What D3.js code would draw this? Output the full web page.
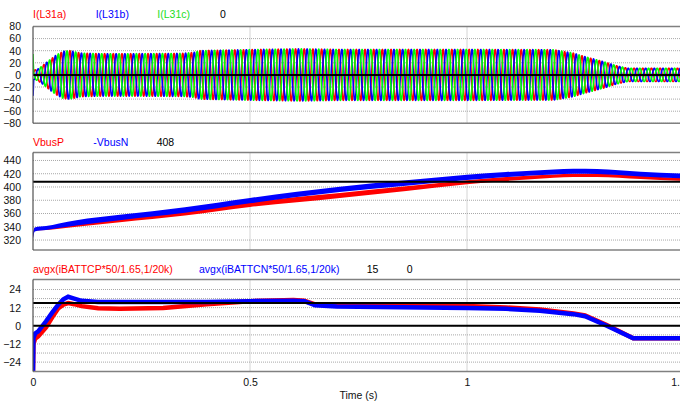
<!DOCTYPE html>
<html>
<head>
<meta charset="utf-8">
<script src="https://cdn.jsdelivr.net/npm/d3@7"></script>
<style>
  body { margin: 0; background: #fff; }
  svg { display: block; font-family: "Liberation Sans", Arial, sans-serif; }
</style>
</head>
<body>
<div id="chart"></div>
<script>
// x axis
const timeTicks = [0, 0.5, 1, 1.5];

// panel 1: three phase currents (50 Hz), envelope
const phaseNames = ["I(L31a)", "I(L31b)", "I(L31c)"];
const lineFreq = 50;
const phaseShift = [0, -120, 120];
const envTime = [0, 0.0015, 0.01, 0.02, 0.039, 0.054, 0.07, 0.085, 0.11, 0.154, 0.23, 0.345, 0.37, 0.385, 0.5, 0.615, 0.7, 1.0, 1.2, 1.245, 1.27, 1.314, 1.345, 1.37, 1.5];
const envAmp  = [40, 8, 9, 14, 25, 33, 39, 40, 36, 35, 35, 35.5, 37, 40, 41.7, 43, 42, 42, 41.5, 36, 30.5, 22, 15, 11, 11];
const iTicks = [80, 60, 40, 20, 0, -20, -40, -60, -80];
const iRef = [0];

// panel 2: bus voltages, band edges (low / high)
const vbusNames = ["VbusP", "-VbusN"];
const vbusTime = [0, 0.004, 0.03, 0.06, 0.1, 0.2, 0.35, 0.5, 0.707, 0.86, 1.0, 1.09, 1.2, 1.245, 1.3, 1.4, 1.5];
const vbusPLow  = [324, 334, 335, 337, 340, 347, 357, 369.8, 383.5, 394, 404, 409, 414, 415, 415, 412, 409];
const vbusPHigh = [330, 338, 339.5, 342, 346, 353, 364, 377.4, 391, 401, 410, 415, 419, 420, 420, 417, 413];
const vbusNLow  = [322, 333, 335, 338, 342, 350, 361, 375.5, 392.5, 402, 410.5, 415, 419, 420, 419.5, 416, 413];
const vbusNHigh = [331, 339, 341, 345, 350, 358, 369.5, 383.5, 400.5, 410, 418.5, 422.5, 426.5, 427.5, 427, 423, 420];
const vTicks = [440, 420, 400, 380, 360, 340, 320];
const vRef = [408];

// panel 3: averaged battery currents
const battNames = ["avgx(iBATTCP*50/1.65,1/20k)", "avgx(iBATTCN*50/1.65,1/20k)"];
const battTime = [0, 0.001, 0.005, 0.012, 0.03, 0.045, 0.058, 0.07, 0.081, 0.095, 0.112, 0.15, 0.2, 0.3, 0.4, 0.5, 0.6, 0.625, 0.65, 0.7, 0.8, 0.9, 1.0, 1.09, 1.168, 1.245, 1.272, 1.322, 1.383, 1.5];
const battP = [-30, -12, -8.5, -7, -1, 6, 11.5, 14, 15, 14.3, 13, 11.6, 11.2, 11.8, 14.3, 16.3, 17, 16.5, 14.2, 14, 13.8, 13.5, 13.1, 12.1, 10.8, 8.2, 6.8, 0.5, -8.2, -8.2];
const battN = [-30, -8, -5, -3.7, 3, 9, 14, 17.5, 19.2, 18, 16.5, 15.8, 15.7, 15.7, 15.8, 16.3, 16.6, 16.3, 13.5, 12.8, 12.4, 12.1, 11.7, 11.2, 9.9, 7.7, 6.3, 0, -8.2, -8.2];
const bGrid = [24, 18, 12, 6, 0, -6, -12, -18, -24];
const bTicks = [24, 12, 0, -12, -24];
const bRef = [15, 0];

const width = 680;
const height = 403;
const red = "#ff0000", blue = "#0000ff", green = "#00ff00";

const svg = d3.select("#chart")
  .append("svg")
  .attr("width", width)
  .attr("height", height);

const xScale = d3.scaleLinear().domain([0, 1.5]).range([33, 684]);

// builds one strip: grid, y labels, clip
function makePanel(id, top, bottom, domain, grid, ticks) {
  const y = d3.scaleLinear().domain(domain).range([bottom, top]);
  svg.append("clipPath").attr("id", id)
    .append("rect")
    .attr("x", xScale(0)).attr("y", top)
    .attr("width", xScale(1.5) - xScale(0)).attr("height", bottom - top);

  const g = svg.append("g");
  g.selectAll(".hg").data(grid).enter().append("line")
    .attr("x1", xScale(0)).attr("x2", width)
    .attr("y1", d => y(d)).attr("y2", d => y(d))
    .attr("stroke", "#a8a8a8").attr("stroke-dasharray", "1,1");
  g.selectAll(".vg").data(timeTicks.slice(1)).enter().append("line")
    .attr("x1", d => xScale(d)).attr("x2", d => xScale(d))
    .attr("y1", top).attr("y2", bottom)
    .attr("stroke", "#a8a8a8").attr("stroke-dasharray", "1,1");

  const ax = g.append("g")
    .attr("transform", `translate(${xScale(0)},0)`)
    .call(d3.axisLeft(y).tickValues(ticks).tickSize(0).tickPadding(12));
  ax.select(".domain").remove();
  ax.selectAll("text").attr("font-size", "10.5px").attr("fill", "#111")
    .attr("font-family", '"Liberation Sans", Arial, sans-serif');

  const plot = svg.append("g").attr("clip-path", `url(#${id})`);
  return {y, plot, top, bottom};
}

function frame(p) {
  svg.append("line").attr("x1", xScale(0)).attr("x2", width)
    .attr("y1", p.top).attr("y2", p.top).attr("stroke", "#808080").attr("stroke-width", 1.5);
  svg.append("line").attr("x1", xScale(0)).attr("x2", width)
    .attr("y1", p.bottom).attr("y2", p.bottom).attr("stroke", "#808080").attr("stroke-width", 1.5);
  svg.append("line").attr("x1", xScale(0)).attr("x2", xScale(0))
    .attr("y1", p.top).attr("y2", p.bottom).attr("stroke", "#505050").attr("stroke-width", 1.2);
}

function refLines(p, levels) {
  p.plot.selectAll(".ref").data(levels).enter().append("line")
    .attr("x1", xScale(0)).attr("x2", width)
    .attr("y1", d => p.y(d)).attr("y2", d => p.y(d))
    .attr("stroke", "#000").attr("stroke-width", 2);
}

function legend(items, xs, baseline) {
  svg.selectAll(null).data(items).enter().append("text")
    .attr("x", (d, i) => xs[i]).attr("y", baseline)
    .attr("font-size", "10.5px")
    .attr("fill", d => d.color)
    .text(d => d.text);
}

// ---- panel 1
const p1 = makePanel("c1", 26.5, 123.3, [-80, 80], iTicks, iTicks);
const envScale = d3.scaleLinear().domain(envTime).range(envAmp).clamp(true);
const samples = d3.range(0, 1.5001, 0.0002);
const phaseColors = [red, blue, green];
phaseShift.forEach((sh, k) => {
  const pts = samples.map(t => [t, envScale(t) * Math.sin(2 * Math.PI * lineFreq * t + sh * Math.PI / 180)]);
  p1.plot.append("path")
    .datum(pts)
    .attr("fill", "none")
    .attr("stroke", phaseColors[k])
    .attr("stroke-width", 1.6)
    .attr("d", d3.line().x(d => xScale(d[0])).y(d => p1.y(d[1])));
});
refLines(p1, iRef);
frame(p1);
legend([
  {text: phaseNames[0], color: red},
  {text: phaseNames[1], color: blue},
  {text: phaseNames[2], color: "#22dd22"},
  {text: String(iRef[0]), color: "#000"}
], [33, 95.7, 157.3, 220], 18);

// ---- panel 2
const p2 = makePanel("c2", 152.5, 250, [305, 452], vTicks, vTicks);
const band = (lo, hi) => d3.area()
  .x((d, i) => xScale(vbusTime[i]))
  .y0((d, i) => p2.y(lo[i]))
  .y1((d, i) => p2.y(hi[i]))
  .curve(d3.curveMonotoneX);
p2.plot.append("path").datum(vbusTime).attr("fill", red).attr("d", band(vbusPLow, vbusPHigh));
p2.plot.append("path").datum(vbusTime).attr("fill", blue).attr("d", band(vbusNLow, vbusNHigh));
refLines(p2, vRef);
frame(p2);
legend([
  {text: vbusNames[0], color: red},
  {text: vbusNames[1], color: blue},
  {text: String(vRef[0]), color: "#000"}
], [33, 93.3, 156.7], 145.5);

// ---- panel 3
const p3 = makePanel("c3", 279.5, 371.5, [-30.2, 30.6], bGrid, bTicks);
const battLine = vals => d3.line()
  .x((d, i) => xScale(battTime[i]))
  .y((d, i) => p3.y(vals[i]));
p3.plot.append("path").datum(battTime).attr("fill", "none").attr("stroke", red)
  .attr("stroke-width", 4.5).attr("d", battLine(battP));
p3.plot.append("path").datum(battTime).attr("fill", "none").attr("stroke", blue)
  .attr("stroke-width", 4.5).attr("d", battLine(battN));
refLines(p3, bRef);
frame(p3);
legend([
  {text: battNames[0], color: red},
  {text: battNames[1], color: blue},
  {text: String(bRef[0]), color: "#000"},
  {text: String(bRef[1]), color: "#000"}
], [33, 199, 366.7, 406.7], 273);

// x axis
const xa = svg.append("g")
  .attr("transform", `translate(0,${p3.bottom})`)
  .call(d3.axisBottom(xScale).tickValues(timeTicks).tickSize(0).tickPadding(7).tickFormat(d => String(d)));
xa.select(".domain").remove();
xa.selectAll("text").attr("font-size", "10.5px").attr("fill", "#111")
  .attr("font-family", '"Liberation Sans", Arial, sans-serif');
// last label sits against the window edge
xa.selectAll(".tick").filter(d => d === 1.5).select("text").attr("dx", -6);

svg.append("text")
  .attr("x", (xScale(0) + xScale(1.5)) / 2)
  .attr("y", 399)
  .attr("text-anchor", "middle")
  .attr("font-size", "10.5px")
  .attr("fill", "#111")
  .text("Time (s)");
</script>
</body>
</html>
